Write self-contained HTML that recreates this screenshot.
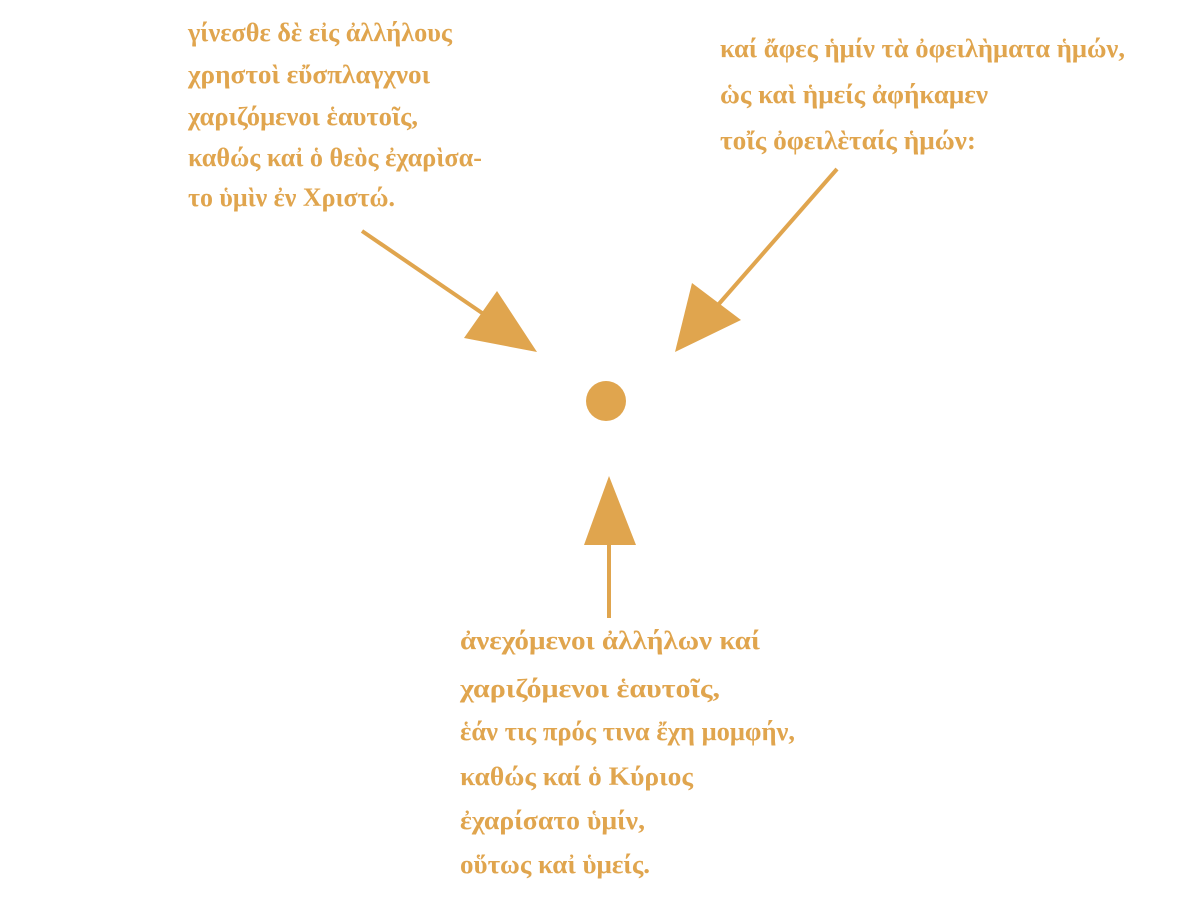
<!DOCTYPE html>
<html><head><meta charset="utf-8"><style>
html,body{margin:0;padding:0;background:#fff;}
svg{display:block;}
text{font-family:"Liberation Serif","DejaVu Serif",serif;font-weight:bold;font-size:26px;fill:#E0A54E;}
</style></head><body>
<svg width="1201" height="901" viewBox="0 0 1201 901" xmlns="http://www.w3.org/2000/svg">
<g stroke="#E0A54E" stroke-width="4" fill="none">
<line x1="362" y1="231" x2="485" y2="315"/>
<line x1="837" y1="169" x2="718" y2="305"/>
<line x1="609" y1="618" x2="609" y2="540"/>
</g>
<g fill="#E0A54E">
<polygon points="464,338 497,291 537,352"/>
<polygon points="692,283 741,320 675,352"/>
<polygon points="584,545 636,545 609,476"/>
<circle cx="606" cy="401" r="20"/>
</g>
<text x="188" y="41" textLength="264" lengthAdjust="spacingAndGlyphs">γίνεσθε δὲ εἰς ἀλλήλους</text>
<text x="188" y="83" textLength="242" lengthAdjust="spacingAndGlyphs">χρηστοὶ εὔσπλαγχνοι</text>
<text x="188" y="125" textLength="230" lengthAdjust="spacingAndGlyphs">χαριζόμενοι ἑαυτοῖς,</text>
<text x="188" y="166" textLength="294" lengthAdjust="spacingAndGlyphs">καθώς καἰ ὁ θεὸς ἐχαρὶσα-</text>
<text x="188" y="206" textLength="207" lengthAdjust="spacingAndGlyphs">το ὑμὶν ἐν Χριστώ.</text>
<text x="720" y="57" textLength="405" lengthAdjust="spacingAndGlyphs">καί ἄφες ἡμίν τὰ ὀφειλὴματα ἡμών,</text>
<text x="720" y="103" textLength="268" lengthAdjust="spacingAndGlyphs">ὡς καὶ ἡμείς ἀφήκαμεν</text>
<text x="720" y="149" textLength="256" lengthAdjust="spacingAndGlyphs">τοἴς ὀφειλὲταίς ἡμών:</text>
<text x="460" y="649" textLength="300" lengthAdjust="spacingAndGlyphs">ἀνεχόμενοι ἀλλήλων  καί</text>
<text x="460" y="697" textLength="260" lengthAdjust="spacingAndGlyphs">χαριζόμενοι ἑαυτοῖς,</text>
<text x="460" y="740" textLength="335" lengthAdjust="spacingAndGlyphs">ἑάν τις πρός τινα ἔχη μομφήν,</text>
<text x="460" y="785" textLength="233" lengthAdjust="spacingAndGlyphs">καθώς καί ὁ Κύριος</text>
<text x="460" y="829" textLength="185" lengthAdjust="spacingAndGlyphs">ἐχαρίσατο ὑμίν,</text>
<text x="460" y="873" textLength="190" lengthAdjust="spacingAndGlyphs">οὕτως καἰ ὑμείς.</text>
</svg>
</body></html>
